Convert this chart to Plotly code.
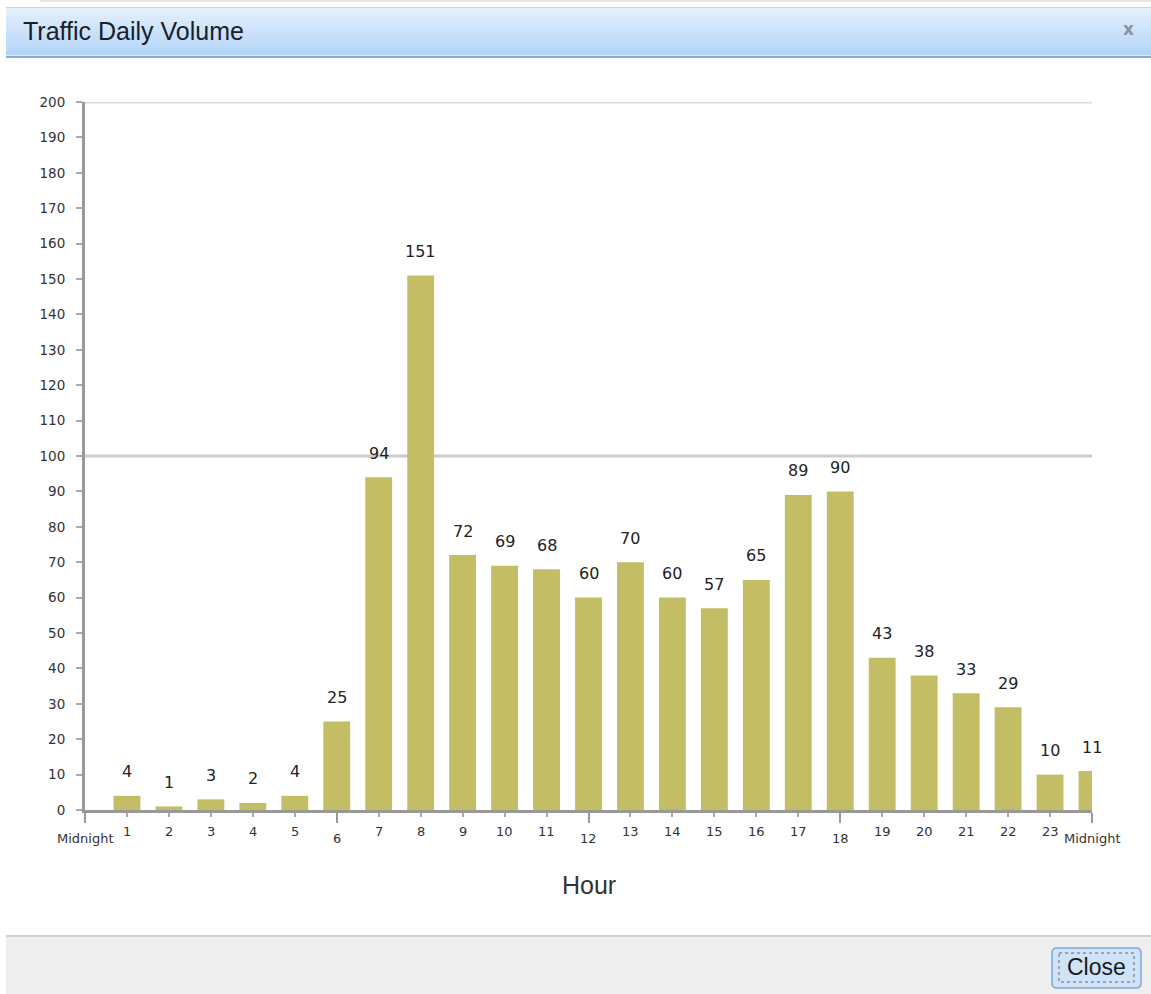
import plotly.graph_objects as go

# ---- data ----
hours = list(range(1, 25))
volumes = [4, 1, 3, 2, 4, 25, 94, 151, 72, 69, 68, 60, 70, 60, 57, 65, 89, 90, 43, 38, 33, 29, 10, 11]
tick_positions = list(range(0, 25))
tick_labels = ["Midnight"] + [str(h) for h in range(1, 24)] + ["Midnight"]
major_ticks = [0, 6, 12, 18, 24]
y_ticks = list(range(0, 201, 10))
grid_values = [100, 200]

W, H = 1151, 994
L, R, T, B = 85, 1092, 102, 810


def px(x):
    return (x - L) / (R - L)


def py(y):
    return (B - y) / (B - T)


fig = go.Figure()
fig.add_trace(go.Bar(
    x=hours, y=volumes, width=0.64,
    marker=dict(color="#c3bd65", line=dict(width=0)),
    hoverinfo="x+y", showlegend=False,
))

annotations = []
# value labels
for h, v in zip(hours, volumes):
    annotations.append(dict(x=h, y=v, xref="x", yref="y", text=str(v), showarrow=False,
                            yshift=24, yanchor="middle", xanchor="center",
                            font=dict(family="DejaVu Sans", size=16, color="#222222")))
# x tick labels
for pos, lab in zip(tick_positions, tick_labels):
    major = pos in major_ticks
    annotations.append(dict(x=pos, y=0, xref="x", yref="y", text=lab, showarrow=False,
                            yshift=-28 if major else -21, yanchor="middle", xanchor="center",
                            font=dict(family="DejaVu Sans", size=13, color="#333333")))
# axis title
annotations.append(dict(x=0.5, y=py(885), xref="paper", yref="paper", text="Hour", showarrow=False,
                        xanchor="center", yanchor="middle",
                        font=dict(family="Liberation Sans", size=25, color="#333333")))
# window title
annotations.append(dict(x=px(21), y=py(31), xref="paper", yref="paper", text="Traffic Daily Volume",
                        showarrow=False, xanchor="left", yanchor="middle",
                        font=dict(family="Liberation Sans", size=25, color="#17202b")))
annotations.append(dict(x=px(1128), y=py(29), xref="paper", yref="paper", text="<b>x</b>",
                        showarrow=False, xanchor="center", yanchor="middle",
                        font=dict(family="DejaVu Sans", size=17, color="#8a949e")))
annotations.append(dict(x=px(1096), y=py(967), xref="paper", yref="paper", text="Close",
                        showarrow=False, xanchor="center", yanchor="middle",
                        font=dict(family="Liberation Sans", size=23, color="#1a1a1a")))

shapes = []
# gridlines
for g in grid_values:
    shapes.append(dict(type="line", xref="paper", yref="y", x0=0, x1=1, y0=g, y1=g,
                       line=dict(color="#cccccc" if g == 100 else "#dadada", width=3), layer="below"))

# title bar gradient
top, bot = 8, 55
n = 24
c0 = (0xe4, 0xf0, 0xfc)
c1 = (0xb3, 0xd4, 0xf7)
for i in range(n):
    t = i / (n - 1)
    col = "rgb(%d,%d,%d)" % tuple(round(a + (b - a) * t) for a, b in zip(c0, c1))
    y0 = top + (bot - top) * i / n
    y1 = top + (bot - top) * (i + 1) / n + 0.5
    shapes.append(dict(type="rect", xref="paper", yref="paper", x0=px(6), x1=px(1151),
                       y0=py(y0), y1=py(y1), fillcolor=col, line=dict(width=0), layer="below"))
shapes.append(dict(type="line", xref="paper", yref="paper", x0=px(6), x1=px(1151), y0=py(7.5), y1=py(7.5),
                   line=dict(color="#c3d6ea", width=1)))
shapes.append(dict(type="line", xref="paper", yref="paper", x0=px(6), x1=px(1151), y0=py(57), y1=py(57),
                   line=dict(color="#8ea9c6", width=2)))
# top faint strip
shapes.append(dict(type="line", xref="paper", yref="paper", x0=px(40), x1=px(1151), y0=py(1), y1=py(1),
                   line=dict(color="#e6e6e6", width=2)))

# bottom bar
shapes.append(dict(type="rect", xref="paper", yref="paper", x0=px(6), x1=px(1151), y0=py(936), y1=py(994),
                   fillcolor="#eeeeee", line=dict(width=0), layer="below"))
shapes.append(dict(type="line", xref="paper", yref="paper", x0=px(6), x1=px(1151), y0=py(936), y1=py(936),
                   line=dict(color="#d0d0d0", width=2)))


def rounded(x0, y0, x1, y1, r):
    X0, X1 = px(x0), px(x1)
    Y0, Y1 = py(y0), py(y1)
    rx = r / (R - L)
    ry = r / (B - T)
    return (f"M {X0+rx},{Y0} L {X1-rx},{Y0} Q {X1},{Y0} {X1},{Y0-ry} "
            f"L {X1},{Y1+ry} Q {X1},{Y1} {X1-rx},{Y1} L {X0+rx},{Y1} Q {X0},{Y1} {X0},{Y1+ry} "
            f"L {X0},{Y0-ry} Q {X0},{Y0} {X0+rx},{Y0} Z")


shapes.append(dict(type="path", xref="paper", yref="paper", path=rounded(1052, 948, 1141, 988, 5),
                   fillcolor="#cfe3f8", line=dict(color="#7ea7d3", width=1.5)))
shapes.append(dict(type="rect", xref="paper", yref="paper", x0=px(1059), x1=px(1134), y0=py(953), y1=py(982),
                   line=dict(color="#666666", width=1, dash="dot")))

fig.update_layout(
    width=W, height=H,
    margin=dict(l=L, r=W - R, t=T, b=H - B, pad=0),
    paper_bgcolor="white", plot_bgcolor="white",
    bargap=0.36,
    annotations=annotations, shapes=shapes,
    xaxis=dict(range=[0, 24], showgrid=False, zeroline=False,
               showline=True, linecolor="#999999", linewidth=3,
               tickmode="array", tickvals=major_ticks, ticks="outside", ticklen=10,
               tickwidth=2, tickcolor="#999999", showticklabels=False,
               minor=dict(tickmode="array", tickvals=tick_positions, ticks="outside", ticklen=4,
                          tickwidth=1.5, tickcolor="#aaaaaa", showgrid=False)),
    yaxis=dict(range=[0, 200], showgrid=False, zeroline=False,
               showline=True, linecolor="#999999", linewidth=3,
               tickmode="array", tickvals=y_ticks, ticks="outside", ticklen=6,
               tickwidth=1.5, tickcolor="#aaaaaa", ticklabelstandoff=8,
               tickfont=dict(family="DejaVu Sans", size=13.5, color="#333333")),
)

fig.write_html("out.html", config={"displayModeBar": False},
               post_script="document.body.style.margin='0';document.body.style.overflow='hidden';")
